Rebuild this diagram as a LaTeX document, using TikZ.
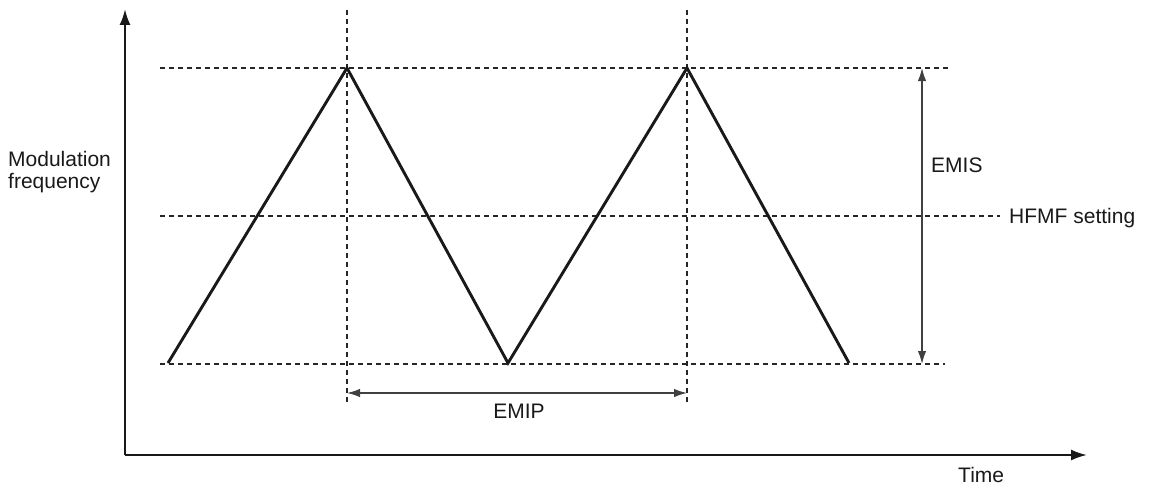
\documentclass[tikz,border=0pt]{standalone}
\usepackage{fontspec}
\setmainfont{Liberation Sans}
\usetikzlibrary{arrows.meta}
\begin{document}
\begin{tikzpicture}[x=1pt,y=-1pt,
  guide/.style={draw=black!85, line width=1.1pt, dash pattern=on 5pt off 4pt},
  axis/.style={draw=black!90, line width=2.2pt, -{Latex[length=16pt,width=11pt]}},
  wave/.style={draw=black!90, line width=2.9pt, line join=miter},
  dim/.style={draw=black!75, line width=1.4pt, {Latex[length=13pt,width=8.5pt]}-{Latex[length=13pt,width=8.5pt]}},
  lbl/.style={inner sep=0pt, font=\fontsize{21pt}{22pt}\selectfont, text=black!90}]
\useasboundingbox (0,0) rectangle (1150,487);
% coordinates
\coordinate (O) at (125,455);
\coordinate (Ytop) at (125,9);
\coordinate (Xend) at (1087,455);
\coordinate (p0) at (168,363);
\coordinate (p1) at (347,68);
\coordinate (p2) at (508,363);
\coordinate (p3) at (687,68);
\coordinate (p4) at (849,363);
\coordinate (tl) at (160,68);  \coordinate (tr) at (948,68);
\coordinate (ml) at (160,216); \coordinate (mr) at (1000,216);
\coordinate (bl) at (160,364); \coordinate (br) at (945,364);
\coordinate (v1t) at (347,10); \coordinate (v1b) at (347,402);
\coordinate (v2t) at (687,10); \coordinate (v2b) at (687,402);
\coordinate (es) at (922,68); \coordinate (ee) at (922,364);
\coordinate (ps) at (347,393); \coordinate (pe) at (687,393);
% guides
\draw[guide] (tl) -- (tr);
\draw[guide] (ml) -- (mr);
\draw[guide] (bl) -- (br);
\draw[guide] (v1t) -- (v1b);
\draw[guide] (v2t) -- (v2b);
% axes
\draw[axis] (O) -- (Ytop);
\draw[axis] (O) -- (Xend);
% wave
\draw[wave] (p0) -- (p1) -- (p2) -- (p3) -- (p4);
% dimensions
\draw[dim] (es) -- (ee);
\draw[dim] (ps) -- (pe);
% labels
\node[lbl, anchor=west, align=left] (ylab) at (8,172) {Modulation\\frequency};
\node[lbl, anchor=base west] (xlab) at (958,482) {Time};
\node[lbl, anchor=west] (emis) at (931,165) {EMIS};
\node[lbl, anchor=base west] (hfmf) at (1009,223) {HFMF setting};
\node[lbl, anchor=base] (emip) at (519,418) {EMIP};
\end{tikzpicture}
\end{document}
